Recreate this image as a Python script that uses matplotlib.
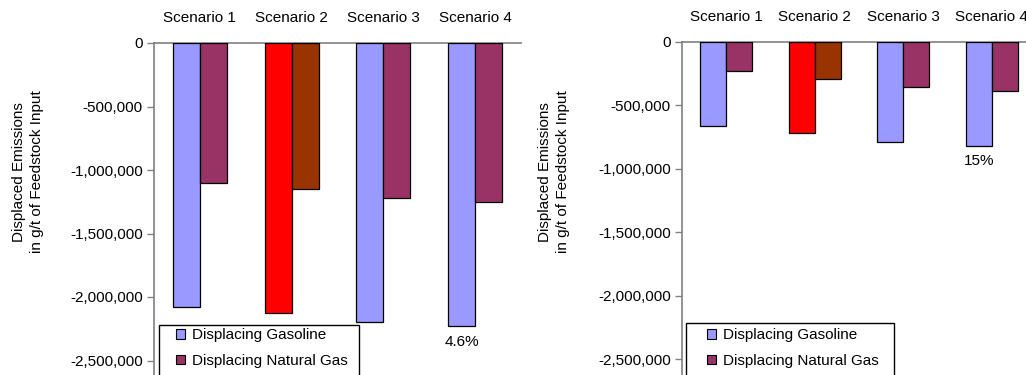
import numpy as np
import matplotlib
matplotlib.use("Agg")
import matplotlib.pyplot as plt
from matplotlib.patches import Patch, Rectangle

plt.rcParams['font.family'] = ['Liberation Sans', 'DejaVu Sans']
plt.rcParams['font.size'] = 11

# displaced emissions, g per tonne of feedstock input
scenarios = ["Scenario 1", "Scenario 2", "Scenario 3", "Scenario 4"]
gasoline_a = [-2080000, -2125000, -2193000, -2225000]
natgas_a = [-1103000, -1150000, -1219000, -1250000]
gasoline_b = [-660000, -717000, -787000, -819000]
natgas_b = [-228000, -288000, -356000, -387000]
note_a = "4.6%"
note_b = "15%"

gas_colors = ["#9999FF", "#FF0000", "#9999FF", "#9999FF"]
ng_colors = ["#993366", "#993300", "#993366", "#993366"]

W, H = 1026, 375
fig = plt.figure(figsize=(W / 100, H / 100), dpi=100)

ymin = -2750000
px_per_unit = 63.5 / 500000


def px_axes(left, top, width):
    height = -ymin * px_per_unit
    return fig.add_axes([left / W, 1 - (top + height) / H, width / W, height / H])


def draw(ax, gas, ng, note, ylab_x, note_off):
    x = np.arange(len(scenarios))
    w = 0.295
    ax.bar(x - w / 2, gas, w, color=gas_colors, edgecolor="black", linewidth=0.9, zorder=3)
    ax.bar(x + w / 2, ng, w, color=ng_colors, edgecolor="black", linewidth=0.9, zorder=3)
    ax.set_xlim(-0.5, len(scenarios) - 0.5)
    ax.set_ylim(ymin, 0)
    ax.set_yticks(np.arange(0, -2500001, -500000))
    ax.yaxis.set_major_formatter(matplotlib.ticker.FuncFormatter(lambda v, p: f"{int(v):,}"))
    ax.tick_params(axis="y", direction="out", length=5, width=1, color="#808080", pad=3)
    ax.xaxis.tick_top()
    ax.set_xticks(x)
    ax.set_xticklabels(scenarios)
    ax.tick_params(axis="x", length=0, pad=13)
    for s in ["right", "bottom"]:
        ax.spines[s].set_visible(False)
    for s in ["left", "top"]:
        ax.spines[s].set_color("#808080")
        ax.spines[s].set_linewidth(1.2)
    ax.annotate(note, xy=(x[-1] - w / 2, gas[-1]), xytext=(0, -note_off),
                textcoords="offset points", ha="center", va="center")
    fig.text(ylab_x / W, 1 - 172 / H, "Displaced Emissions\nin g/t of Feedstock Input",
             rotation=90, ha="center", va="center", multialignment="center", linespacing=1.45)


ax1 = px_axes(154, 43, 367)
draw(ax1, gasoline_a, natgas_a, note_a, 28, 11.5)

ax2 = px_axes(682, 42, 354)
draw(ax2, gasoline_b, natgas_b, note_b, 554, 10.5)

handles = [Patch(facecolor="#9999FF", edgecolor="black", linewidth=0.8),
           Patch(facecolor="#993366", edgecolor="black", linewidth=0.8)]
labels = ["Displacing Gasoline", "Displacing Natural Gas"]
# legend boxes run off the bottom edge, so the frame is drawn by hand
for bx, by, bw, mx in [(159, 325, 200, 176), (686, 323, 208, 707)]:
    fig.add_artist(Rectangle((bx / W, 1 - (by + 80) / H), bw / W, 80 / H,
                             transform=fig.transFigure, facecolor="white",
                             edgecolor="black", linewidth=1.0, zorder=4))
    leg = fig.legend(handles, labels, loc="center left", bbox_to_anchor=(mx / W, 1 - 348.2 / H),
                     frameon=False, handlelength=0.6, handleheight=0.6, handletextpad=0.45,
                     labelspacing=0.75, borderpad=0, borderaxespad=0)
    leg.set_zorder(5)

fig.savefig("out.png", dpi=100)
